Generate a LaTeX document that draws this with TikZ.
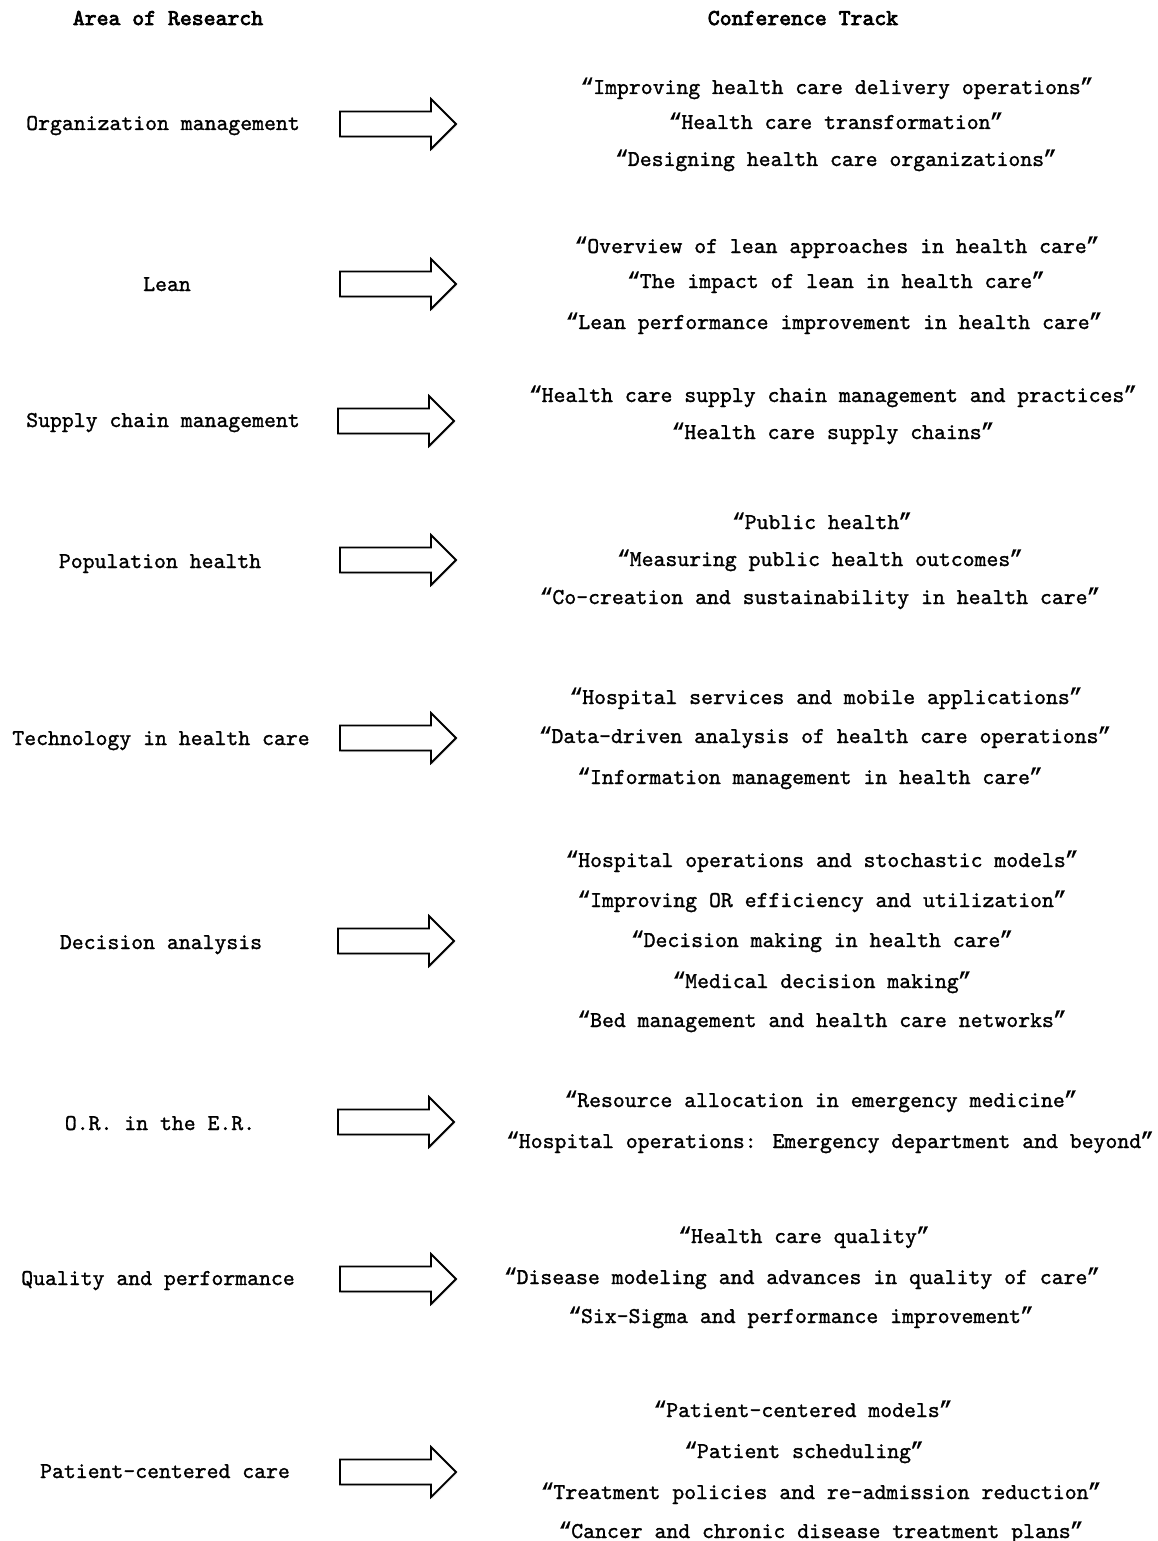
\documentclass[tikz,border=0pt]{standalone}
\usepackage{fontspec}
\setmainfont{lmmono10-regular.otf}[FakeBold=1.2]
\newfontfamily\headfont{lmmono10-regular.otf}[FakeBold=3.2]
\newfontfamily\quotefont{Liberation Mono}[FakeBold=1.2]
\newcommand{\tqopen}{\makebox[0.525em][c]{\quotefont “}}
\newcommand{\tqclose}{\makebox[0.525em][c]{\quotefont ”}}
\usetikzlibrary{shadows}
\tikzset{
  txt/.style={inner sep=0pt, anchor=center, text height=17pt, text depth=3pt,
    font=\fontsize{22.65}{26}\selectfont},
  lbl/.style={txt},
  trk/.style={txt},
  head/.style={txt, font=\fontsize{22.65}{26}\selectfont\headfont},
  pics/blockarrow/.style={code={
    \draw[line width=1.8pt, fill=white, line join=miter,
          drop shadow={opacity=0.25, shadow xshift=1pt, shadow yshift=-1.5pt}]
      (0,-12.5) -- (91,-12.5) -- (91,-25) -- (116,0) -- (91,25) -- (91,12.5) -- (0,12.5) -- cycle;
  }}
}
\begin{document}
\begin{tikzpicture}[x=1pt,y=-1pt]
\useasboundingbox (0,0) rectangle (1157,1541);
% headings
\node[head] (h1) at (168,18) {Area of Research};
\node[head] (h2) at (803,18) {Conference Track};
% left labels
\node[lbl] (a1) at (163,123) {Organization management};
\node[lbl] (a2) at (167,284) {Lean};
\node[lbl] (a3) at (163,420) {Supply chain management};
\node[lbl] (a4) at (160,561) {Population health};
\node[lbl] (a5) at (161,738) {Technology in health care};
\node[lbl] (a6) at (161,942) {Decision analysis};
\node[lbl] (a7) at (160,1123) {O.R. in the E.R.};
\node[lbl] (a8) at (158,1278) {Quality and performance};
\node[lbl] (a9) at (165,1471) {Patient-centered care};
% arrows
\pic (r1) at (340,124) {blockarrow};
\pic (r2) at (340,284) {blockarrow};
\pic (r3) at (338,421) {blockarrow};
\pic (r4) at (340,560) {blockarrow};
\pic (r5) at (340,738) {blockarrow};
\pic (r6) at (338,941) {blockarrow};
\pic (r7) at (338,1122) {blockarrow};
\pic (r8) at (340,1279) {blockarrow};
\pic (r9) at (340,1472) {blockarrow};
% tracks
\node[trk] (t11) at (837,87) {\tqopen Improving health care delivery operations\tqclose};
\node[trk] (t12) at (836,122) {\tqopen Health care transformation\tqclose};
\node[trk] (t13) at (836,159) {\tqopen Designing health care organizations\tqclose};
\node[trk] (t21) at (837,246) {\tqopen Overview of lean approaches in health care\tqclose};
\node[trk] (t22) at (836,281) {\tqopen The impact of lean in health care\tqclose};
\node[trk] (t23) at (834,322) {\tqopen Lean performance improvement in health care\tqclose};
\node[trk] (t31) at (833,395) {\tqopen Health care supply chain management and practices\tqclose};
\node[trk] (t32) at (833,432) {\tqopen Health care supply chains\tqclose};
\node[trk] (t41) at (822,522) {\tqopen Public health\tqclose};
\node[trk] (t42) at (820,559) {\tqopen Measuring public health outcomes\tqclose};
\node[trk] (t43) at (820,597) {\tqopen Co-creation and sustainability in health care\tqclose};
\node[trk] (t51) at (826,697) {\tqopen Hospital services and mobile applications\tqclose};
\node[trk] (t52) at (825,736) {\tqopen Data-driven analysis of health care operations\tqclose};
\node[trk] (t53) at (810,777) {\tqopen Information management in health care\tqclose};
\node[trk] (t61) at (822,860) {\tqopen Hospital operations and stochastic models\tqclose};
\node[trk] (t62) at (822,900) {\tqopen Improving OR efficiency and utilization\tqclose};
\node[trk] (t63) at (822,940) {\tqopen Decision making in health care\tqclose};
\node[trk] (t64) at (822,981) {\tqopen Medical decision making\tqclose};
\node[trk] (t65) at (822,1020) {\tqopen Bed management and health care networks\tqclose};
\node[trk] (t71) at (821,1100) {\tqopen Resource allocation in emergency medicine\tqclose};
\node[trk] (t72) at (830,1141) {\tqopen Hospital operations: Emergency department and beyond\tqclose};
\node[trk] (t81) at (804,1236) {\tqopen Health care quality\tqclose};
\node[trk] (t82) at (802,1277) {\tqopen Disease modeling and advances in quality of care\tqclose};
\node[trk] (t83) at (801,1316) {\tqopen Six-Sigma and performance improvement\tqclose};
\node[trk] (t91) at (803,1410) {\tqopen Patient-centered models\tqclose};
\node[trk] (t92) at (804,1451) {\tqopen Patient scheduling\tqclose};
\node[trk] (t93) at (821,1492) {\tqopen Treatment policies and re-admission reduction\tqclose};
\node[trk] (t94) at (821,1531) {\tqopen Cancer and chronic disease treatment plans\tqclose};
\end{tikzpicture}
\end{document}
